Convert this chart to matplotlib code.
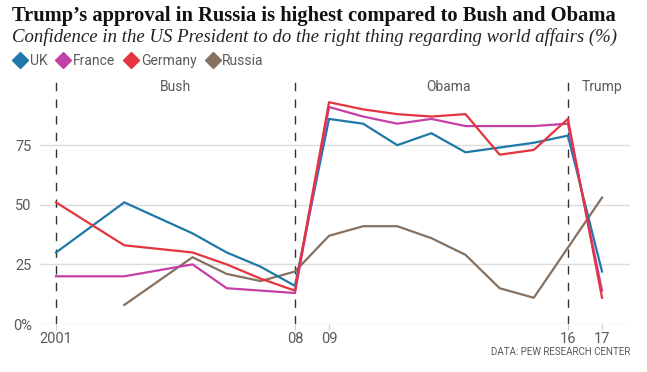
import matplotlib
matplotlib.use("Agg")
import matplotlib.pyplot as plt
from matplotlib.lines import Line2D

# data
years_uk = [2001, 2003, 2005, 2006, 2007, 2008, 2009, 2010, 2011, 2012, 2013, 2014, 2015, 2016, 2017]
uk       = [30,   51,   38,   30,   24,   16,   86,   84,   75,   80,   72,   74,   76,   79,   22]
years_fr = [2001, 2003, 2005, 2006, 2007, 2008, 2009, 2010, 2011, 2012, 2013, 2014, 2015, 2016, 2017]
france   = [20,   20,   25,   15,   14,   13,   91,   87,   84,   86,   83,   83,   83,   84,   14]
years_de = [2001, 2003, 2005, 2006, 2007, 2008, 2009, 2010, 2011, 2012, 2013, 2014, 2015, 2016, 2017]
germany  = [51,   33,   30,   25,   19,   14,   93,   90,   88,   87,   88,   71,   73,   86,   11]
years_ru = [2003, 2005, 2006, 2007, 2008, 2009, 2010, 2011, 2012, 2013, 2014, 2015, 2017]
russia   = [8,    28,   21,   18,   22,   37,   41,   41,   36,   29,   15,   11,   53]

tick_years  = [2001, 2008, 2009, 2016, 2017]
tick_labels = ["2001", "08", "09", "16", "17"]
y_ticks     = [0, 25, 50, 75]
y_labels    = ["0%", "25", "50", "75"]
terms       = [("Bush", 2004.5), ("Obama", 2012.5), ("Trump", 2017.0)]
term_starts = [2001, 2008, 2016]

C_UK, C_FR, C_DE, C_RU = "#1f78a8", "#c43fa6", "#e3343f", "#86705f"
GREY = "#5a5a5a"
SANS = "Roboto"
SERIF = "Liberation Serif"

fig = plt.figure(figsize=(6.47, 3.72), dpi=100)
ax = fig.add_axes([40 / 647, 1 - 324 / 372, 590 / 647, 248 / 372])

ax.set_xlim(2000.53, 2017.82)
ax.set_ylim(0, 104)

for y in y_ticks:
    ax.axhline(y, color="#dcdcdc", lw=1, zorder=0)

for x in term_starts:
    ax.axvline(x, color="#333333", lw=1, ls=(0, (6, 6)), zorder=1)

ax.plot(years_ru, russia, color=C_RU, lw=1.6, zorder=3, clip_on=False)
ax.plot(years_uk, uk, color=C_UK, lw=1.6, zorder=4, clip_on=False)
ax.plot(years_fr, france, color=C_FR, lw=1.6, zorder=5, clip_on=False)
ax.plot(years_de, germany, color=C_DE, lw=1.6, zorder=6, clip_on=False)

for label, x in terms:
    ax.text(x, 99.5, label, ha="center", va="center", fontsize=10,
            color=GREY, family=SANS)

for s in ax.spines.values():
    s.set_visible(False)

ax.set_xticks(tick_years)
ax.set_xticklabels(tick_labels, fontsize=10.5, color=GREY, family=SANS)
ax.tick_params(axis="x", length=4, color="#cccccc", pad=2)
ax.set_yticks(y_ticks)
ax.set_yticklabels(y_labels, fontsize=10.5, color=GREY, family=SANS)
ax.tick_params(axis="y", length=0, pad=6)

fig.text(12 / 647, 1 - 16 / 372, "Trump\u2019s approval in Russia is highest compared to Bush and Obama",
         fontsize=14.8, fontweight="bold", family=SERIF, va="center", color="#111111")
fig.text(12 / 647, 1 - 37 / 372, "Confidence in the US President to do the right thing regarding world affairs (%)",
         fontsize=13.5, style="italic", family=SERIF, va="center", color="#222222")

handles = [Line2D([], [], marker="D", ls="none", color=c, markersize=8)
           for c in (C_UK, C_FR, C_DE, C_RU)]
leg = fig.legend(handles, ["UK", "France", "Germany", "Russia"], loc="center left",
                 bbox_to_anchor=(-1 / 647, 1 - 61 / 372), ncol=4, frameon=False,
                 handletextpad=0.1, columnspacing=0.55, handlelength=1.2,
                 prop={"family": SANS, "size": 10})
for t in leg.get_texts():
    t.set_color(GREY)

fig.text(630 / 647, 1 - 352 / 372, "DATA: PEW RESEARCH CENTER", ha="right", va="center",
         fontsize=7.0, color=GREY, family=SANS)

fig.savefig("out.png", dpi=100)
